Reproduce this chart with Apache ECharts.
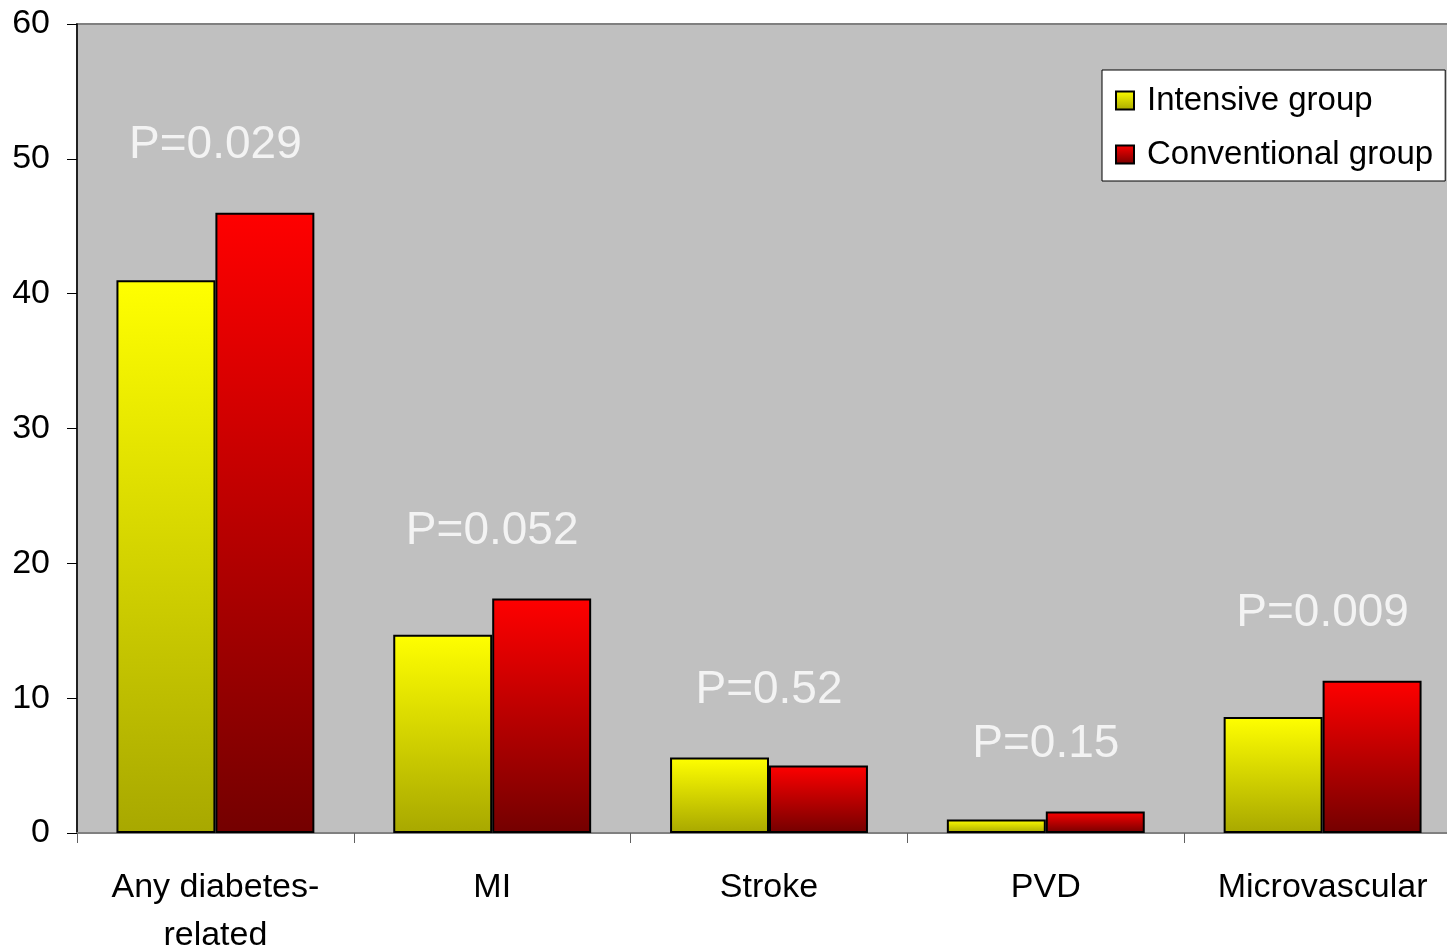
<!DOCTYPE html>
<html>
<head>
<meta charset="utf-8">
<script src="https://cdn.jsdelivr.net/npm/echarts@6/dist/echarts.min.js"></script>
<style>
  html, body { margin: 0; padding: 0; background: #ffffff; }
  #chart { width: 1447px; height: 949px; }
</style>
</head>
<body>
<div id="chart"></div>
<script>
// Event rates by endpoint, intensive vs conventional treatment
const categories = ['Any diabetes-\nrelated', 'MI', 'Stroke', 'PVD', 'Microvascular'];
const intensive = [41.0, 14.7, 5.6, 1.0, 8.6];
const conventional = [46.0, 17.4, 5.0, 1.6, 11.3];
const pValues = ['P=0.029', 'P=0.052', 'P=0.52', 'P=0.15', 'P=0.009'];
const yTicks = [0, 10, 20, 30, 40, 50, 60];

const FONT = '"Liberation Sans", Arial, Helvetica, sans-serif';

function vGrad(top, bottom) {
  return new echarts.graphic.LinearGradient(0, 0, 0, 1, [
    { offset: 0, color: top },
    { offset: 1, color: bottom }
  ]);
}

// P-value labels sit above the taller bar of each pair
const pLabelPoints = categories.map((c, i) => [i, Math.max(intensive[i], conventional[i])]);

const chart = echarts.init(document.getElementById('chart'), null, { renderer: 'canvas' });

chart.setOption({
  animation: false,
  backgroundColor: '#ffffff',
  textStyle: { fontFamily: FONT },
  grid: {
    left: 77, top: 24, width: 1384, height: 809,
    containLabel: false,
    outerBoundsMode: 'none',
    show: true,
    backgroundColor: '#c0c0c0',
    borderColor: '#808080',
    borderWidth: 2
  },
  legend: {
    data: ['Intensive group', 'Conventional group'],
    orient: 'vertical',
    left: 1102,
    top: 70,
    backgroundColor: '#ffffff',
    borderColor: '#000000',
    borderWidth: 1,
    borderRadius: 0,
    padding: [14, 12, 10, 13],
    itemGap: 21,
    itemWidth: 18,
    itemHeight: 18,
    icon: 'rect',
    textStyle: { fontSize: 33, color: '#000000', fontFamily: FONT, padding: [0, 0, 0, 8] }
  },
  xAxis: {
    type: 'category',
    data: categories,
    axisLine: { show: true, lineStyle: { color: '#808080', width: 2 } },
    axisTick: { show: true, length: 10, alignWithLabel: false, lineStyle: { color: '#606060', width: 1 } },
    axisLabel: {
      fontSize: 34, color: '#000000', fontFamily: FONT,
      lineHeight: 48, margin: 31, interval: 0
    },
    splitLine: { show: false }
  },
  yAxis: {
    type: 'value',
    min: yTicks[0],
    max: yTicks[yTicks.length - 1],
    interval: yTicks[1] - yTicks[0],
    axisLine: { show: true, lineStyle: { color: '#000000', width: 1.5 } },
    axisTick: { show: true, length: 10, lineStyle: { color: '#000000', width: 1 } },
    axisLabel: { fontSize: 34, color: '#000000', fontFamily: FONT, margin: 27 },
    splitLine: { show: false }
  },
  series: [
    {
      name: 'Intensive group',
      type: 'bar',
      data: intensive,
      barGap: '0%',
      barCategoryGap: '28.5%',
      itemStyle: { color: vGrad('#ffff00', '#a8a800'), borderColor: '#000000', borderWidth: 2 }
    },
    {
      name: 'Conventional group',
      type: 'bar',
      data: conventional,
      barGap: '0%',
      barCategoryGap: '28.5%',
      itemStyle: { color: vGrad('#ff0000', '#740000'), borderColor: '#000000', borderWidth: 2 }
    },
    {
      name: 'p',
      type: 'scatter',
      data: pLabelPoints,
      symbolSize: 0,
      silent: true,
      z: 5,
      label: {
        show: true,
        position: 'top',
        distance: 44,
        fontSize: 46,
        color: '#ffffff',
        fontFamily: FONT,
        formatter: (p) => pValues[p.dataIndex]
      }
    }
  ]
});
</script>
</body>
</html>
